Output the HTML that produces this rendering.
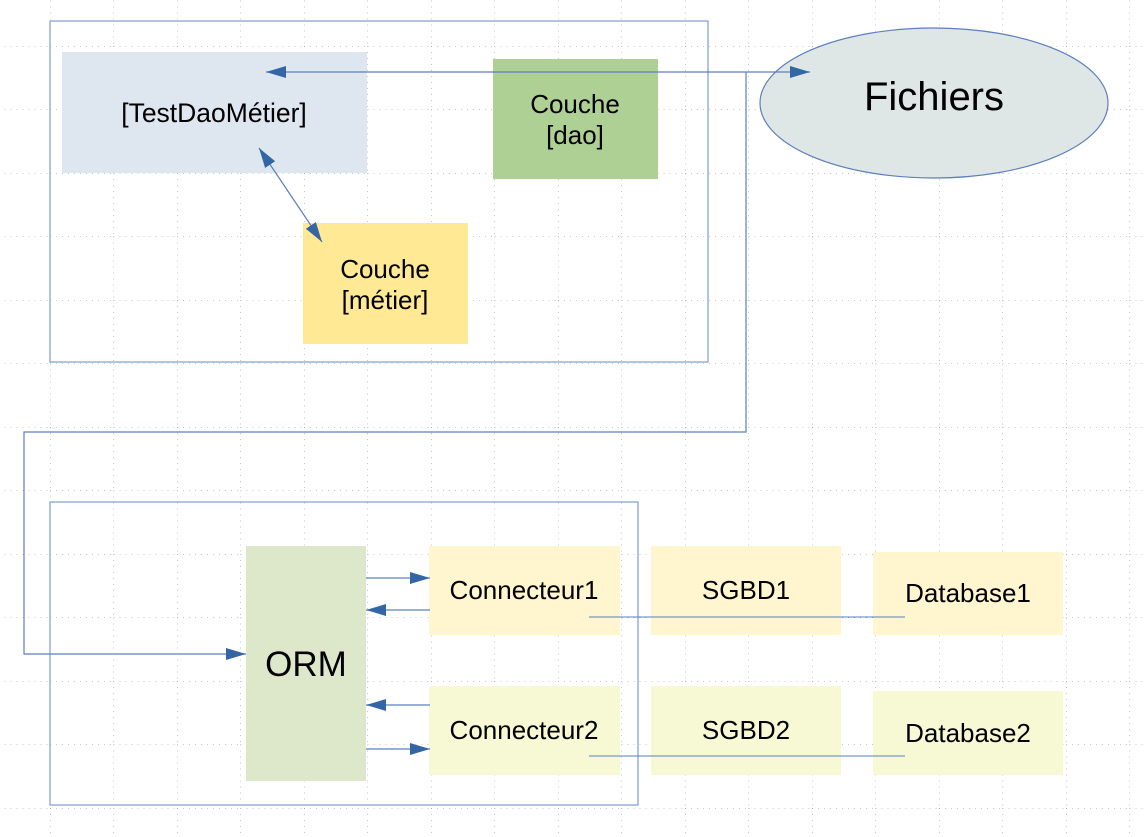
<!DOCTYPE html>
<html><head><meta charset="utf-8"><style>
html,body{margin:0;padding:0;background:#fff}
svg{display:block}
text{font-family:"Liberation Sans",sans-serif;fill:#000}
</style></head><body>
<svg width="1147" height="837" viewBox="0 0 1147 837" xmlns="http://www.w3.org/2000/svg">
<defs>
<pattern id="g" x="50" y="46" width="63.5" height="63.5" patternUnits="userSpaceOnUse">
<line x1="0" y1="0" x2="0" y2="63.5" stroke="#909090" stroke-width="1" stroke-dasharray="1,5"/>
<line x1="0" y1="0" x2="63.5" y2="0" stroke="#909090" stroke-width="1" stroke-dasharray="1,5"/>
</pattern>
<marker id="a" viewBox="0 0 20 12" refX="20" refY="6" markerWidth="20" markerHeight="12" markerUnits="userSpaceOnUse" orient="auto-start-reverse">
<path d="M0,0 L20,6 L0,12 z" fill="#3465a4"/>
</marker>
</defs>
<rect width="1147" height="837" fill="url(#g)"/>

<rect x="50" y="21" width="658" height="341" fill="none" stroke="#7f9ccf" stroke-width="1.2"/>
<rect x="50" y="502" width="588" height="303" fill="none" stroke="#7f9ccf" stroke-width="1.2"/>

<rect x="62" y="52" width="305" height="121" fill="#dee6ef"/>
<text x="214" y="122" font-size="26.5" text-anchor="middle">[TestDaoMétier]</text>
<rect x="493" y="59" width="165" height="120" fill="#afd095"/>
<text x="575" y="113" font-size="26" text-anchor="middle">Couche</text>
<text x="575" y="144" font-size="26" text-anchor="middle">[dao]</text>
<rect x="303" y="223" width="165" height="121" fill="#ffe994"/>
<text x="385" y="278" font-size="26" text-anchor="middle">Couche</text>
<text x="385" y="309" font-size="26" text-anchor="middle">[métier]</text>

<ellipse cx="934" cy="103" rx="174" ry="75" fill="#dee7e5" stroke="#5b7fbf" stroke-width="1.2"/>
<text x="934" y="110" font-size="40" text-anchor="middle">Fichiers</text>

<line x1="266" y1="72" x2="810" y2="72" stroke="#5b7fbf" stroke-width="1.2" marker-start="url(#a)" marker-end="url(#a)"/>
<line x1="259" y1="148" x2="322" y2="242" stroke="#5b7fbf" stroke-width="1.2" marker-start="url(#a)" marker-end="url(#a)"/>
<polyline points="746,72 746,432 24,432 24,654 246,654" fill="none" stroke="#5b7fbf" stroke-width="1.2" marker-end="url(#a)"/>

<rect x="246" y="546" width="120" height="235" fill="#dde8cb"/>
<text x="306" y="676" font-size="35" text-anchor="middle">ORM</text>

<rect x="429" y="546" width="191" height="89" fill="#fff5ce"/>
<text x="524" y="599" font-size="26" text-anchor="middle">Connecteur1</text>
<rect x="429" y="686" width="191" height="89" fill="#f6f9d4"/>
<text x="524" y="739" font-size="26" text-anchor="middle">Connecteur2</text>
<rect x="651" y="546" width="190" height="89" fill="#fff5ce"/>
<text x="746" y="599" font-size="26" text-anchor="middle">SGBD1</text>
<rect x="651" y="686" width="190" height="89" fill="#f6f9d4"/>
<text x="746" y="739" font-size="26" text-anchor="middle">SGBD2</text>
<rect x="873" y="552" width="190" height="83" fill="#fff5ce"/>
<text x="968" y="602" font-size="26" text-anchor="middle">Database1</text>
<rect x="873" y="691" width="190" height="84" fill="#f6f9d4"/>
<text x="968" y="742" font-size="26" text-anchor="middle">Database2</text>

<line x1="366" y1="578" x2="430" y2="578" stroke="#5b7fbf" stroke-width="1.2" marker-end="url(#a)"/>
<line x1="430" y1="610" x2="366" y2="610" stroke="#5b7fbf" stroke-width="1.2" marker-end="url(#a)"/>
<line x1="430" y1="705" x2="366" y2="705" stroke="#5b7fbf" stroke-width="1.2" marker-end="url(#a)"/>
<line x1="366" y1="749" x2="430" y2="749" stroke="#5b7fbf" stroke-width="1.2" marker-end="url(#a)"/>
<line x1="589" y1="617" x2="905" y2="617" stroke="#5b7fbf" stroke-width="1"/>
<line x1="589" y1="756" x2="905" y2="756" stroke="#5b7fbf" stroke-width="1"/>
</svg>
</body></html>
